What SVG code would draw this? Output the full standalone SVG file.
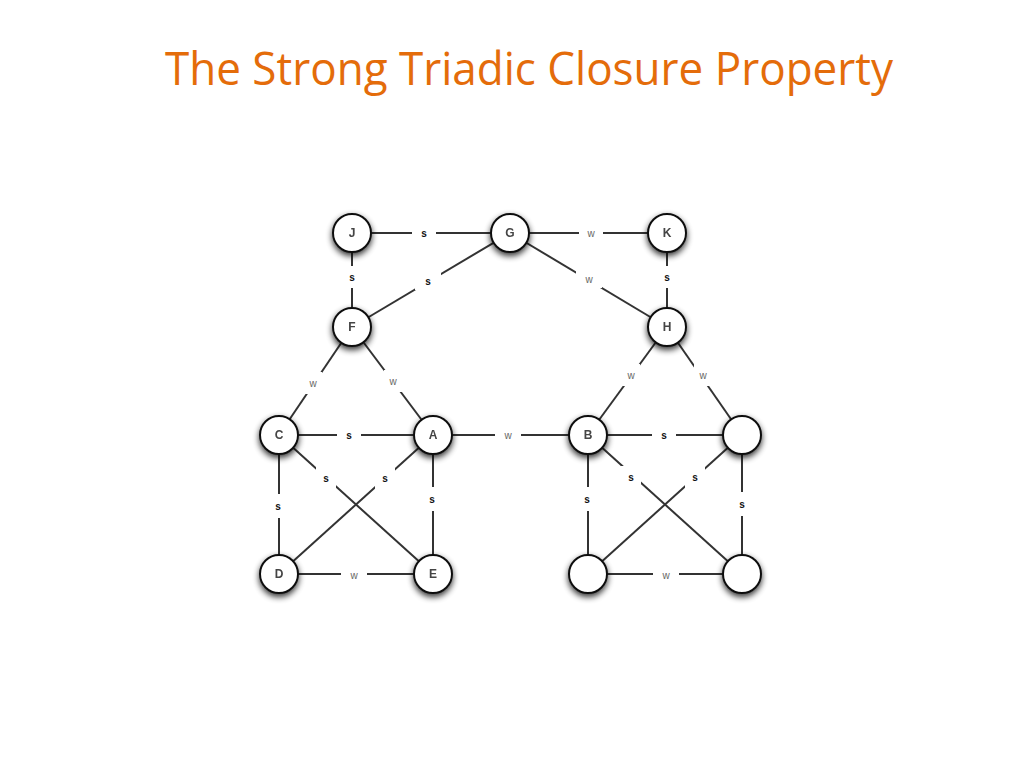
<svg xmlns="http://www.w3.org/2000/svg" width="1024" height="768" viewBox="0 0 1024 768">
<defs>
<filter id="sh" x="-50%" y="-50%" width="200%" height="200%">
<feGaussianBlur in="SourceAlpha" stdDeviation="3"/>
<feOffset dx="0" dy="3" result="b"/>
<feComponentTransfer><feFuncA type="linear" slope="0.8"/></feComponentTransfer>
<feMerge><feMergeNode/><feMergeNode in="SourceGraphic"/></feMerge>
</filter>
</defs>
<style>
.title{font-family:"Open Sans","Noto Sans",sans-serif;font-size:45px;fill:#E46C0A}
.e{stroke:#333;stroke-width:2;fill:none}
.gap{fill:#fff}
.s{font-family:"Liberation Sans",Arial,sans-serif;font-size:10px;font-weight:bold;fill:#111;text-anchor:middle;dominant-baseline:central}
.w{font-family:"Liberation Sans",Arial,sans-serif;font-size:10px;fill:#666;text-anchor:middle;dominant-baseline:central}
.n circle{fill:#fff;stroke:#111;stroke-width:2}
.n text{font-family:"Liberation Sans",Arial,sans-serif;font-size:12px;font-weight:bold;fill:#444;text-anchor:middle;dominant-baseline:central}
</style>
<rect width="1024" height="768" fill="#fff"/>
<text class="title" x="165" y="85" textLength="728" lengthAdjust="spacingAndGlyphs">The Strong Triadic Closure Property</text>
<g id="connectors">
<line class="e" x1="352" y1="233" x2="510" y2="233"/>
<line class="e" x1="510" y1="233" x2="667" y2="233"/>
<line class="e" x1="352" y1="233" x2="352" y2="327"/>
<line class="e" x1="510" y1="233" x2="352" y2="327"/>
<line class="e" x1="510" y1="233" x2="667" y2="327"/>
<line class="e" x1="667" y1="233" x2="667" y2="327"/>
<line class="e" x1="352" y1="327" x2="279" y2="435"/>
<line class="e" x1="352" y1="327" x2="433" y2="435"/>
<line class="e" x1="667" y1="327" x2="588" y2="435"/>
<line class="e" x1="667" y1="327" x2="742" y2="435"/>
<line class="e" x1="279" y1="435" x2="433" y2="435"/>
<line class="e" x1="433" y1="435" x2="588" y2="435"/>
<line class="e" x1="588" y1="435" x2="742" y2="435"/>
<line class="e" x1="279" y1="435" x2="279" y2="574"/>
<line class="e" x1="433" y1="435" x2="433" y2="574"/>
<line class="e" x1="279" y1="435" x2="433" y2="574"/>
<line class="e" x1="433" y1="435" x2="279" y2="574"/>
<line class="e" x1="279" y1="574" x2="433" y2="574"/>
<line class="e" x1="588" y1="435" x2="588" y2="574"/>
<line class="e" x1="742" y1="435" x2="742" y2="574"/>
<line class="e" x1="588" y1="435" x2="742" y2="574"/>
<line class="e" x1="742" y1="435" x2="588" y2="574"/>
<line class="e" x1="588" y1="574" x2="742" y2="574"/>
<g id="gaps">
<rect class="gap" x="412" y="226" width="24" height="14"/>
<rect class="gap" x="579" y="226" width="24" height="14"/>
<rect class="gap" x="345" y="266" width="14" height="22"/>
<rect class="gap" x="660" y="266" width="14" height="22"/>
<rect class="gap" x="415" y="272" width="26" height="18"/>
<rect class="gap" x="576" y="270" width="26" height="18"/>
<rect class="gap" x="304" y="372" width="18" height="22"/>
<rect class="gap" x="384" y="370" width="18" height="22"/>
<rect class="gap" x="622" y="364" width="18" height="22"/>
<rect class="gap" x="694" y="364" width="18" height="22"/>
<rect class="gap" x="337" y="428" width="24" height="14"/>
<rect class="gap" x="495" y="428" width="26" height="14"/>
<rect class="gap" x="652" y="428" width="24" height="14"/>
<rect class="gap" x="272" y="494" width="14" height="24"/>
<rect class="gap" x="426" y="487" width="14" height="24"/>
<rect class="gap" x="581" y="487" width="14" height="24"/>
<rect class="gap" x="735" y="492" width="14" height="24"/>
<rect class="gap" x="316" y="467" width="20" height="22"/>
<rect class="gap" x="375" y="467" width="20" height="22"/>
<rect class="gap" x="621" y="466" width="20" height="22"/>
<rect class="gap" x="685" y="466" width="20" height="22"/>
<rect class="gap" x="341" y="567" width="26" height="14"/>
<rect class="gap" x="653" y="567" width="26" height="14"/>
</g>
<g id="labels">
<text class="s" x="424" y="233">s</text>
<text class="w" x="591" y="233">w</text>
<text class="s" x="352" y="277">s</text>
<text class="s" x="667" y="277">s</text>
<text class="s" x="428" y="281">s</text>
<text class="w" x="589" y="279">w</text>
<text class="w" x="313" y="383">w</text>
<text class="w" x="393" y="381">w</text>
<text class="w" x="631" y="375">w</text>
<text class="w" x="703" y="375">w</text>
<text class="s" x="349" y="435">s</text>
<text class="w" x="508" y="435">w</text>
<text class="s" x="664" y="435">s</text>
<text class="s" x="278" y="506">s</text>
<text class="s" x="432" y="499">s</text>
<text class="s" x="587" y="499">s</text>
<text class="s" x="742" y="504">s</text>
<text class="s" x="326" y="478">s</text>
<text class="s" x="385" y="478">s</text>
<text class="s" x="631" y="477">s</text>
<text class="s" x="695" y="477">s</text>
<text class="w" x="354" y="575">w</text>
<text class="w" x="666" y="575">w</text>
</g>
</g>
<g id="node-J" class="n" filter="url(#sh)"><circle cx="352" cy="233" r="19"/><text x="352" y="233">J</text></g>
<g id="node-G" class="n" filter="url(#sh)"><circle cx="510" cy="233" r="19"/><text x="510" y="233">G</text></g>
<g id="node-K" class="n" filter="url(#sh)"><circle cx="667" cy="233" r="19"/><text x="667" y="233">K</text></g>
<g id="node-F" class="n" filter="url(#sh)"><circle cx="352" cy="327" r="19"/><text x="352" y="327">F</text></g>
<g id="node-H" class="n" filter="url(#sh)"><circle cx="667" cy="327" r="19"/><text x="667" y="327">H</text></g>
<g id="node-C" class="n" filter="url(#sh)"><circle cx="279" cy="435" r="19"/><text x="279" y="435">C</text></g>
<g id="node-A" class="n" filter="url(#sh)"><circle cx="433" cy="435" r="19"/><text x="433" y="435">A</text></g>
<g id="node-B" class="n" filter="url(#sh)"><circle cx="588" cy="435" r="19"/><text x="588" y="435">B</text></g>
<g id="node-R1" class="n" filter="url(#sh)"><circle cx="742" cy="435" r="19"/></g>
<g id="node-D" class="n" filter="url(#sh)"><circle cx="279" cy="574" r="19"/><text x="279" y="574">D</text></g>
<g id="node-E" class="n" filter="url(#sh)"><circle cx="433" cy="574" r="19"/><text x="433" y="574">E</text></g>
<g id="node-R2" class="n" filter="url(#sh)"><circle cx="588" cy="574" r="19"/></g>
<g id="node-R3" class="n" filter="url(#sh)"><circle cx="742" cy="574" r="19"/></g>
</svg>
